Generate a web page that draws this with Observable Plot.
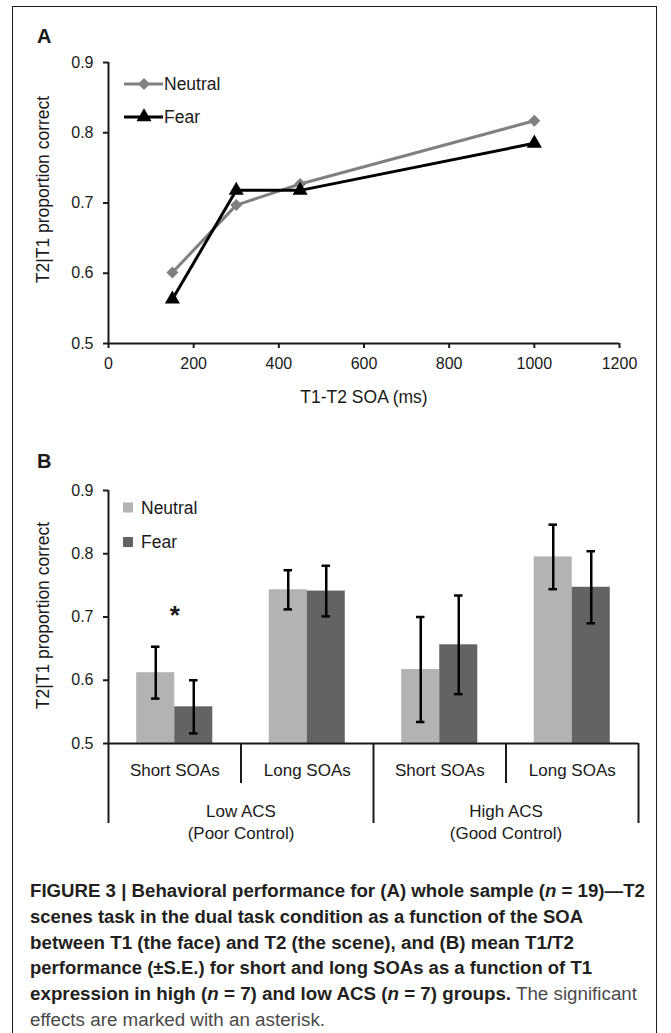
<!DOCTYPE html>
<html><head><meta charset="utf-8">
<script src="https://cdn.jsdelivr.net/npm/d3@7"></script>
<script src="https://cdn.jsdelivr.net/npm/@observablehq/plot@0.6"></script>
<style>
body{margin:0;background:#fff;font-family:"Liberation Sans",Arial,sans-serif;}
#page{position:relative;width:671px;height:1033px;overflow:hidden;background:#fff;}
#frame{position:absolute;left:12px;top:6px;width:643px;height:1100px;border:1.5px solid #1c1c1c;}
.abs{position:absolute;left:0;}
</style></head><body>
<div id="page"><div id="frame"></div>
<div id="panelA" class="abs" style="top:0"></div>
<div id="panelB" class="abs" style="top:420px"></div>
<div id="overlayHolder" class="abs" style="top:0"></div>
</div>
<script>
// ---------- data: panel A ----------
const soa = [150, 300, 450, 1000];
const neutralA = [0.601, 0.697, 0.727, 0.817];
const fearA = [0.563, 0.718, 0.718, 0.785];
const xTicksA = [0, 200, 400, 600, 800, 1000, 1200];
const yTicks = [0.5, 0.6, 0.7, 0.8, 0.9];
const yDomain = [0.5, 0.9];

// ---------- data: panel B ----------
const groups = ["Low ACS\n(Poor Control)", "High ACS\n(Good Control)"];
const soaLevels = ["Short SOAs", "Long SOAs"];
const neutralB = [0.612, 0.743, 0.617, 0.795];
const neutralSE = [0.041, 0.031, 0.083, 0.051];
const fearB = [0.558, 0.741, 0.656, 0.747];
const fearSE = [0.042, 0.040, 0.078, 0.057];
const significant = [0]; // category index marked with an asterisk
const seriesNames = ["Neutral", "Fear"];

const FONT = "Liberation Sans, Arial, sans-serif";
const INK = "#1a1a1a";

// ---------- Panel A ----------
const rowsA = soa.flatMap((s, i) => [
  {series: "Neutral", soa: s, value: neutralA[i]},
  {series: "Fear", soa: s, value: fearA[i]}
]);
const plotA = Plot.plot({
  width: 671, height: 420,
  marginTop: 62, marginBottom: 77, marginLeft: 108, marginRight: 52,
  style: {fontFamily: FONT, fontSize: "16px", color: INK, background: "transparent", overflow: "visible"},
  x: {domain: [0, 1200]},
  y: {domain: yDomain},
  marks: [
    Plot.axisY({ticks: yTicks, tickFormat: d3.format(".1f"), tickSize: 5, tickPadding: 10, strokeWidth: 2, label: null, fontSize: 16}),
    Plot.axisX({ticks: xTicksA, tickFormat: d3.format("d"), tickSize: 5, tickPadding: 9, strokeWidth: 2, label: null, fontSize: 16}),
    Plot.ruleX([0], {strokeWidth: 2}),
    Plot.ruleY([yDomain[0]], {strokeWidth: 2}),
    Plot.line(rowsA.filter(d => d.series === "Neutral"), {x: "soa", y: "value", stroke: "#808080", strokeWidth: 3}),
    Plot.dot(rowsA.filter(d => d.series === "Neutral"), {x: "soa", y: "value", symbol: "diamond2", r: 5.4, fill: "#808080"}),
    Plot.line(rowsA.filter(d => d.series === "Fear"), {x: "soa", y: "value", stroke: "#000", strokeWidth: 3}),
    Plot.dot(rowsA.filter(d => d.series === "Fear"), {x: "soa", y: "value", symbol: "triangle", r: 5.6, fill: "#000"}),
    Plot.text(["T1-T2 SOA (ms)"], {text: d => d, frameAnchor: "bottom", dy: 59, fontSize: 17.5}),
    Plot.text(["T2|T1 proportion correct"], {text: d => d, frameAnchor: "left", textAnchor: "middle", rotate: -90, dx: -65, dy: -13.5, fontSize: 17.5})
  ]
});
document.getElementById("panelA").append(plotA);

// ---------- Panel B ----------
const cats = groups.flatMap((g, gi) => soaLevels.map((s, si) => ({group: g, soa: s, index: gi * 2 + si})));
const valuesB = [neutralB, fearB];
const seB = [neutralSE, fearSE];
const barFrac = 0.287;
const capHalf = 0.032;
const rowsB = cats.flatMap((c, i) => seriesNames.map((s, k) => ({
  ...c, series: s, value: valuesB[k][i], se: seB[k][i],
  x1: i + 0.5 - barFrac + k * barFrac, x2: i + 0.5 + k * barFrac
})));
const xc = d => (d.x1 + d.x2) / 2;

const plotB = Plot.plot({
  width: 671, height: 440,
  marginTop: 70, marginBottom: 117, marginLeft: 108, marginRight: 33,
  style: {fontFamily: FONT, fontSize: "16px", color: INK, background: "transparent", overflow: "visible"},
  x: {domain: [0, 4]},
  y: {domain: yDomain},
  color: {domain: seriesNames, range: ["#b3b3b3", "#636363"]},
  marks: [
    Plot.rect(rowsB, {x1: "x1", x2: "x2", y1: yDomain[0], y2: "value", fill: "series"}),
    Plot.ruleX(rowsB, {x: xc, y1: d => d.value - d.se, y2: d => d.value + d.se, stroke: "#000", strokeWidth: 2.5}),
    Plot.ruleY(rowsB, {y: d => d.value + d.se, x1: d => xc(d) - capHalf, x2: d => xc(d) + capHalf, stroke: "#000", strokeWidth: 2.5}),
    Plot.ruleY(rowsB, {y: d => d.value - d.se, x1: d => xc(d) - capHalf, x2: d => xc(d) + capHalf, stroke: "#000", strokeWidth: 2.5}),
    Plot.axisY({ticks: yTicks, tickFormat: d3.format(".1f"), tickSize: 5, tickPadding: 10, strokeWidth: 2, label: null, fontSize: 16}),
    Plot.axisX({ticks: [0, 2, 4], tickSize: 80, tickFormat: () => "", strokeWidth: 2, label: null}),
    Plot.axisX({ticks: [1, 3], tickSize: 40, tickFormat: () => "", strokeWidth: 2, label: null}),
    Plot.ruleX([0], {strokeWidth: 2}),
    Plot.ruleY([yDomain[0]], {strokeWidth: 2}),
    Plot.text(cats, {x: d => d.index + 0.5, text: "soa", frameAnchor: "bottom", dy: 27, lineAnchor: "middle", fontSize: 17}),
    Plot.text(groups, {x: (d, i) => 2 * i + 1, text: d => d, frameAnchor: "bottom", dy: 58, lineAnchor: "top", lineHeight: 1.3, fontSize: 17}),
    Plot.text(significant, {x: i => i + 0.5, y: i => Math.max(neutralB[i] + neutralSE[i], fearB[i] + fearSE[i]), text: () => "*", dy: -31, fontSize: 26, fontWeight: "bold", lineAnchor: "middle"}),
    Plot.text(["T2|T1 proportion correct"], {text: d => d, frameAnchor: "left", textAnchor: "middle", rotate: -90, dx: -65, dy: -1.5, fontSize: 17.5})
  ]
});
document.getElementById("panelB").append(plotB);

// ---------- overlay: panel letters, legends, caption ----------
const svg = d3.create("svg").attr("width", 671).attr("height", 1033)
  .style("font-family", FONT).style("display", "block");

svg.append("text").attr("x", 37).attr("y", 43).attr("font-size", 20).attr("font-weight", "bold").attr("fill", INK).text("A");
svg.append("text").attr("x", 37).attr("y", 468).attr("font-size", 20).attr("font-weight", "bold").attr("fill", INK).text("B");

// legend A
const legA = [
  {name: "Neutral", color: "#808080", symbol: d3.symbolDiamond2, r: 5.4, y: 84},
  {name: "Fear", color: "#000", symbol: d3.symbolTriangle, r: 5.6, y: 117}
];
legA.forEach(l => {
  svg.append("line").attr("x1", 124).attr("x2", 163).attr("y1", l.y).attr("y2", l.y).attr("stroke", l.color).attr("stroke-width", 3);
  svg.append("path").attr("transform", `translate(144,${l.y})`).attr("fill", l.color)
    .attr("d", d3.symbol().type(l.symbol).size(Math.PI * l.r * l.r)());
  svg.append("text").attr("x", 164).attr("y", l.y).attr("dy", "0.35em").attr("font-size", 17.5).attr("fill", INK).text(l.name);
});

// legend B
const legB = [
  {name: "Neutral", color: "#b3b3b3", y: 507.5},
  {name: "Fear", color: "#636363", y: 542}
];
legB.forEach(l => {
  svg.append("rect").attr("x", 123).attr("y", l.y - 5).attr("width", 10).attr("height", 10).attr("fill", l.color);
  svg.append("text").attr("x", 141).attr("y", l.y).attr("dy", "0.35em").attr("font-size", 17.5).attr("fill", INK).text(l.name);
});

// caption
const captionLines = [
  {w: 615, segs: [["FIGURE 3 | Behavioral performance for (A) whole sample (", "b"], ["n", "bi"], [" = 19)\u2014T2", "b"]]},
  {w: 553, segs: [["scenes task in the dual task condition as a function of the SOA", "b"]]},
  {w: 544, segs: [["between T1 (the face) and T2 (the scene), and (B) mean T1/T2", "b"]]},
  {w: 562, segs: [["performance (\u00B1S.E.) for short and long SOAs as a function of T1", "b"]]},
  {w: 607, segs: [["expression in high (", "b"], ["n", "bi"], [" = 7) and low ACS (", "b"], ["n", "bi"], [" = 7) groups.", "b"], [" The significant", "r"]]},
  {w: 295, segs: [["effects are marked with an asterisk.", "r"]]}
];
captionLines.forEach((line, i) => {
  const t = svg.append("text").attr("x", 30).attr("y", 897 + i * 25.8)
    .attr("font-size", 18).attr("textLength", line.w).attr("lengthAdjust", "spacingAndGlyphs");
  line.segs.forEach(([txt, st]) => {
    t.append("tspan")
      .attr("font-weight", st.includes("b") ? "bold" : "normal")
      .attr("font-style", st.includes("i") ? "italic" : "normal")
      .attr("fill", st === "r" ? "#4a4a4a" : "#231f20")
      .text(txt);
  });
});
document.getElementById("overlayHolder").append(svg.node());
</script>
</body></html>
